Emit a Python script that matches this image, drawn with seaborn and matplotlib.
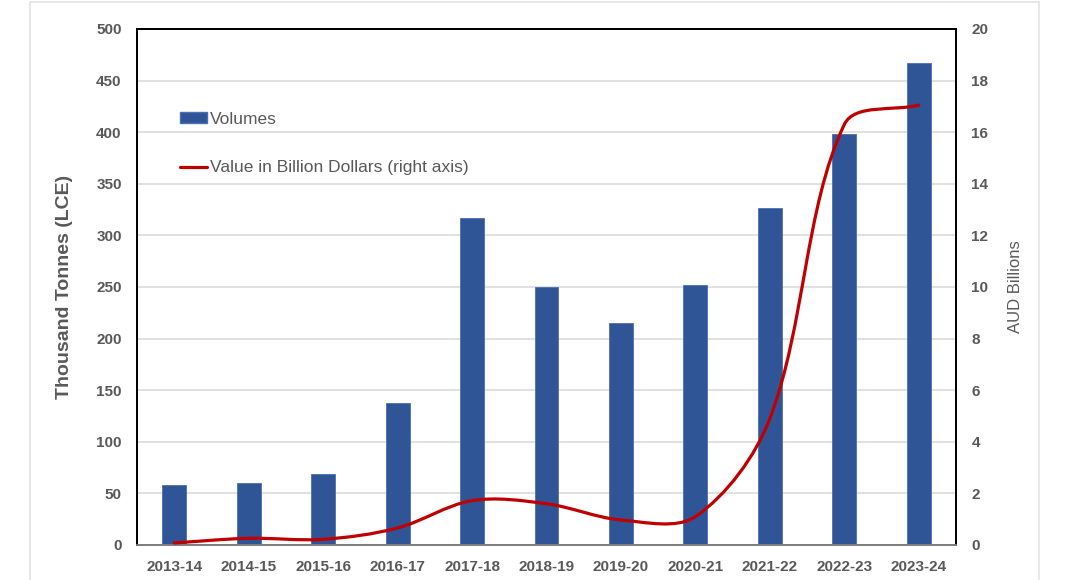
import numpy as np
import pandas as pd
import matplotlib
matplotlib.use("Agg")
import matplotlib.pyplot as plt
from matplotlib.path import Path
from matplotlib.patches import PathPatch, Rectangle
from matplotlib.lines import Line2D
import seaborn as sns

years = ["2013-14", "2014-15", "2015-16", "2016-17", "2017-18", "2018-19",
         "2019-20", "2020-21", "2021-22", "2022-23", "2023-24"]
volumes = [58, 60, 69, 138, 317, 250, 215, 252, 327, 398, 467]
value_bn = [0.08, 0.26, 0.22, 0.66, 1.72, 1.6, 0.97, 1.1, 4.9, 16.3, 17.05]

sns.set_style("white")
plt.rcParams["font.family"] = ["Liberation Sans", "DejaVu Sans"]

grey = "#595959"
bar_color = "#2F5597"
line_color = "#C00000"

df = pd.DataFrame({"Year": years, "Volumes": volumes})

fig = plt.figure(figsize=(10.68, 5.80), dpi=100)
ax = fig.add_axes([137 / 1068, 35 / 580, 819 / 1068, 516 / 580])

# faint frame round the picture
fig.patches.append(Rectangle((30 / 1068, -0.05), 1009 / 1068, 1.05 - 2 / 580,
                             transform=fig.transFigure, fill=False,
                             edgecolor="#E3E3E3", linewidth=1.2))

sns.barplot(data=df, x="Year", y="Volumes", color=bar_color, width=0.32,
            edgecolor="#4A6FB5", linewidth=0.6, saturation=1, ax=ax, zorder=2)
ax.set_ylim(0, 500)
ax.set_xlim(-0.5, len(years) - 0.5)
ax.set_yticks(range(0, 501, 50))
ax.yaxis.grid(True, color="#D9D9D9", linewidth=1.1, zorder=0)
ax.set_axisbelow(True)
ax.set_xlabel("")
ax.set_ylabel("Thousand Tonnes (LCE)", fontsize=14, fontweight="bold",
              color=grey, labelpad=17)
ax.tick_params(axis="both", length=0, labelsize=11, labelcolor=grey)
ax.tick_params(axis="y", pad=11)
ax.tick_params(axis="x", pad=11)
for lab in ax.get_xticklabels() + ax.get_yticklabels():
    lab.set_fontweight("bold")

ax2 = ax.twinx()
ax2.set_ylim(0, 20)
ax2.set_yticks(range(0, 21, 2))
ax2.tick_params(axis="y", length=0, labelsize=11, labelcolor=grey, pad=11)
for lab in ax2.get_yticklabels():
    lab.set_fontweight("bold")
ax2.set_ylabel("AUD Billions", fontsize=12, color=grey, labelpad=14)

for a in (ax, ax2):
    for side in ("left", "top", "right"):
        a.spines[side].set_color("black")
        a.spines[side].set_linewidth(1.3)
    a.spines["bottom"].set_color("#7F7F7F")
    a.spines["bottom"].set_linewidth(1.3)

# smoothed line: Bezier through the data points, tangents weighted by
# chord length in screen space (close to Excel's smoothing)
xs = np.arange(len(years), dtype=float)
ys = np.array(value_bn, dtype=float)
pts = np.column_stack([xs, ys])
scr = ax2.transData.transform(pts)
n = len(pts)


def dist(i, j):
    return np.hypot(*(scr[i] - scr[j]))


verts = [tuple(pts[0])]
codes = [Path.MOVETO]
for i in range(n - 1):
    a, b = i, i + 1
    pa, pb = max(a - 1, 0), min(b + 1, n - 1)
    d0, d1, d2 = dist(pa, a), dist(a, b), dist(b, pb)
    t_a = pts[b] - pts[pa]
    t_b = pts[pb] - pts[a]
    w_a = d1 / (d0 + d1) / 3 if d0 + d1 > 0 else 0
    w_b = d1 / (d1 + d2) / 3 if d1 + d2 > 0 else 0
    c1 = pts[a] + t_a * w_a
    c2 = pts[b] - t_b * w_b
    verts += [tuple(c1), tuple(c2), tuple(pts[b])]
    codes += [Path.CURVE4] * 3
ax2.add_patch(PathPatch(Path(verts, codes), facecolor="none",
                        edgecolor=line_color, linewidth=2.3,
                        capstyle="round", zorder=3))

handles = [Rectangle((0, 0), 1, 1, facecolor=bar_color, edgecolor="#4A6FB5"),
           Line2D([0], [0], color=line_color, linewidth=2.3)]
ax2.legend(handles, ["Volumes", "Value in Billion Dollars (right axis)"],
           loc="upper left", bbox_to_anchor=(0.052, 0.84), frameon=False,
           fontsize=12.5, labelcolor=grey, handlelength=1.6, handleheight=0.55,
           handletextpad=0.15, labelspacing=1.95, borderpad=0, borderaxespad=0)

fig.savefig("out.png", dpi=100)
